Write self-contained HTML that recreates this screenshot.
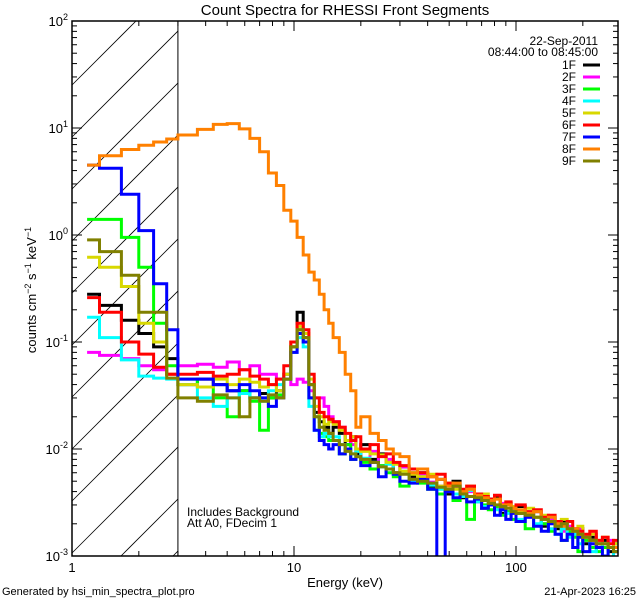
<!DOCTYPE html>
<html><head><meta charset="utf-8"><style>
html,body{margin:0;padding:0;background:#fff;width:640px;height:600px;overflow:hidden;}
svg{display:block;font-family:"Liberation Sans",sans-serif;overflow:hidden;}
</style></head><body>
<svg id="chart" width="640" height="600" viewBox="0 0 640 600">
<rect x="0" y="0" width="640" height="600" fill="#fff"/>
<text x="345" y="15" font-size="15" text-anchor="middle">Count Spectra for RHESSI Front Segments</text>
<text x="345" y="587" font-size="13" text-anchor="middle">Energy (keV)</text>
<text transform="translate(36,290) rotate(-90)" font-size="13" text-anchor="middle">counts cm<tspan dy="-5" font-size="9">−2</tspan><tspan dy="5"> s</tspan><tspan dy="-5" font-size="9">−1</tspan><tspan dy="5"> keV</tspan><tspan dy="-5" font-size="9">−1</tspan></text>
<text x="2" y="595" font-size="11">Generated by hsi_min_spectra_plot.pro</text>
<text x="636" y="595" font-size="11" text-anchor="end">21-Apr-2023 16:25</text>
<text x="187" y="516" font-size="12">Includes Background</text>
<text x="187" y="527" font-size="12">Att A0, FDecim 1</text>
<g id="hatch"></g>
<g id="series"></g>
<g id="axes"></g>
<g id="legend"></g>
</svg>
<script>
const edges=[1.17,1.33,1.67,2.0,2.33,2.67,3.0,3.67,4.33,5,5.67,6.33,7,7.67,8.33,9,9.67,10.33,11,11.67,12.33,13,13.67,14.33,15,16,17,18,19,20,22,24,26,28,30,33,36,40,44,48,52,56,60,65,70,75,80,85,90,95,100,110,120,130,140,150,160,170,180,190,200,215,230,245,260,275,290];
const labels=["1F","2F","3F","4F","5F","6F","7F","8F","9F"];
const colors=["#000000","#ff00ff","#00ff00","#00ffff","#d8d800","#ff0000","#0000ff","#ff8000","#808000"];
const s1F=[0.28,0.22,0.16,0.12,0.09,0.07, 0.04,0.045,0.04,0.035,0.035,0.03,0.033,0.03,0.035,0.05,0.09,0.19,0.11,0.04,0.022,0.018,0.016,0.014, 0.016,0.014,0.011,0.013,0.009,0.011,0.008,0.009,0.0075,0.006,0.0068,0.0055,0.006,0.0045,0.0052,0.0038,0.005,0.0035,0.0042,0.0036,0.0028,0.0034,0.0036,0.0025,0.0031,0.0026,0.0029,0.0024,0.0026,0.0019,0.0023,0.0018,0.0021,0.0017,0.0016,0.0018,0.0013,0.0015,0.0012,0.0014,0.0011,0.0013];
const s2F=[0.08,0.075,0.07,0.06,0.055,0.05, 0.06,0.062,0.058,0.065,0.055,0.06,0.05,0.05,0.045,0.05,0.04,0.045,0.042,0.035,0.03,0.03,0.025,0.02, 0.018,0.016,0.012,0.011,0.01,0.008,0.0095,0.007,0.008,0.006,0.0068,0.0052,0.0058,0.0049,0.0045,0.004,0.0043,0.0037,0.004,0.0032,0.0035,0.003,0.0028,0.0031,0.0026,0.0028,0.0025,0.0023,0.0026,0.002,0.0022,0.0019,0.0017,0.0019,0.0016,0.0018,0.0015,0.0016,0.0013,0.0012,0.0014,0.0011];
const s3F=[1.4,1.4,0.95,0.5,0.15,0.06, 0.045,0.038,0.03,0.02,0.035,0.028,0.015,0.03,0.032,0.045,0.09,0.13,0.1,0.03,0.02,0.014,0.013,0.012, 0.012,0.009,0.011,0.008,0.0085,0.0075,0.0065,0.007,0.006,0.0055,0.0045,0.006,0.0048,0.0042,0.0038,0.0045,0.0033,0.0036,0.0022,0.0033,0.003,0.0027,0.0029,0.0024,0.0026,0.0022,0.0025,0.0018,0.0023,0.002,0.0017,0.0019,0.0014,0.0017,0.0015,0.0011,0.0014,0.0012,0.0011,0.0012,0.0009,0.0011];
const s4F=[0.17,0.11,0.068,0.048,0.046,0.045, 0.04,0.03,0.025,0.03,0.033,0.03,0.028,0.035,0.04,0.05,0.08,0.11,0.09,0.025,0.015,0.013,0.014,0.013, 0.013,0.011,0.01,0.009,0.0095,0.0082,0.0075,0.0068,0.0072,0.0058,0.0062,0.005,0.0055,0.0046,0.0042,0.0048,0.0038,0.0036,0.0041,0.0032,0.0029,0.0033,0.0027,0.0029,0.0025,0.0027,0.0022,0.0024,0.002,0.0022,0.0018,0.0016,0.0018,0.0015,0.0016,0.0013,0.0015,0.0011,0.0012,0.0013,0.0009,0.0011];
const s5F=[0.62,0.5,0.33,0.15,0.1,0.05, 0.04,0.038,0.045,0.04,0.045,0.042,0.038,0.04,0.035,0.05,0.1,0.14,0.12,0.045,0.025,0.02,0.017,0.018, 0.017,0.015,0.012,0.013,0.01,0.0095,0.009,0.0088,0.0075,0.0072,0.0062,0.0058,0.0055,0.0058,0.0045,0.0048,0.0042,0.004,0.0045,0.0035,0.0038,0.0032,0.0034,0.0028,0.0031,0.0029,0.0026,0.0028,0.0023,0.0024,0.0021,0.002,0.0022,0.0018,0.0017,0.0019,0.0015,0.0016,0.0014,0.0015,0.0012,0.0013];
const s6F=[0.26,0.19,0.1,0.077,0.058,0.05, 0.05,0.052,0.048,0.05,0.055,0.048,0.045,0.04,0.045,0.06,0.1,0.15,0.13,0.05,0.03,0.022,0.02,0.019, 0.018,0.016,0.014,0.012,0.013,0.01,0.011,0.0085,0.009,0.0075,0.007,0.0065,0.006,0.0055,0.0058,0.0048,0.0046,0.0042,0.0045,0.0038,0.0036,0.0034,0.0037,0.003,0.0032,0.0028,0.003,0.0026,0.0027,0.0023,0.0024,0.0021,0.002,0.0021,0.0018,0.0017,0.0016,0.0017,0.0014,0.0015,0.0013,0.0014];
const s7F=[4.5,4.2,2.4,1.1,0.35,0.13, 0.045,0.045,0.04,0.035,0.04,0.035,0.03,0.025,0.03,0.045,0.08,0.12,0.1,0.03,0.015,0.012,0.011,0.01, 0.011,0.009,0.01,0.008,0.0085,0.007,0.0075,0.0055,0.0065,0.0058,0.005,0.0048,0.0052,0.0042,0.0006,0.004,0.0035,0.0038,0.0032,0.0034,0.0028,0.003,0.0024,0.0027,0.0022,0.0025,0.0021,0.0023,0.0019,0.0017,0.002,0.0016,0.0014,0.0016,0.0012,0.0015,0.0011,0.0013,0.0012,0.001,0.0012,0.0011];
const s8F=[4.5,5.5,6.3,6.9,7.4,7.9, 8.6,9.7,10.8,11,9.8,8,6,3.8,2.9,1.7,1.35,0.95,0.65,0.45,0.38,0.28,0.2,0.15, 0.11,0.08,0.05,0.035,0.016,0.02,0.014,0.012,0.01,0.009,0.0085,0.006,0.0065,0.0055,0.0052,0.0045,0.0048,0.004,0.0042,0.0037,0.0035,0.0033,0.0034,0.003,0.003,0.0028,0.0027,0.0025,0.0026,0.0022,0.0023,0.002,0.0019,0.0018,0.0018,0.0016,0.0015,0.0014,0.0013,0.0013,0.0012,0.0012];
const s9F=[0.9,0.7,0.42,0.19,0.19,0.046, 0.03,0.028,0.032,0.03,0.02,0.03,0.028,0.032,0.03,0.045,0.09,0.13,0.11,0.04,0.02,0.016,0.015,0.014, 0.012,0.011,0.0095,0.009,0.0085,0.008,0.0075,0.0068,0.0065,0.006,0.0058,0.0052,0.005,0.0048,0.0044,0.0042,0.0045,0.0038,0.0036,0.0035,0.0033,0.0031,0.003,0.0029,0.0028,0.0026,0.0025,0.0024,0.0023,0.0022,0.0021,0.0019,0.002,0.0018,0.0017,0.0016,0.0015,0.0014,0.0013,0.0013,0.0012,0.0011];
const seriesData=[s1F,s2F,s3F,s4F,s5F,s6F,s7F,s8F,s9F];

const NS="http://www.w3.org/2000/svg";
const X0=72,X1=618,Y0=21,Y1=556,DEC=222,YDEC=107;
function xs(e){return X0+DEC*Math.log10(e);}
function ys(v){return Y1-(Math.log10(v)+3)*YDEC;}
function mk(tag,attrs,parent){const el=document.createElementNS(NS,tag);for(const k in attrs)el.setAttribute(k,attrs[k]);parent.appendChild(el);return el;}

const hatch=document.getElementById('hatch');
const defs=mk('defs',{},hatch);
const HX1=xs(3);
for(let b=85;b<Y1+(HX1-X0);b+=52){
  // line y = b - (x - X0), clipped to [X0,HX1]x[Y0,Y1]
  let xa=X0, xb=HX1;
  xa=Math.max(xa, X0+(b-Y1));
  xb=Math.min(xb, X0+(b-Y0));
  if(xb<=xa)continue;
  const ln=mk('line',{x1:xa,y1:b-(xa-X0),x2:xb,y2:b-(xb-X0),stroke:'#000','stroke-width':0.8},hatch);
  
  
}
const vl=mk('line',{x1:HX1,y1:Y0,x2:HX1,y2:Y1,stroke:'#000','stroke-width':1},hatch);



const cp2=mk('clipPath',{id:'pclip'},defs);
mk('rect',{x:X0,y:Y0,width:X1-X0,height:Y1-Y0},cp2);
const sg=mk('g',{'clip-path':'url(#pclip)'},document.getElementById('series'));
seriesData.forEach((vals,si)=>{
  let d='';
  const n=Math.min(vals.length,edges.length-1);
  for(let i=0;i<n;i++){
    const y=Math.min(Y1+2,ys(vals[i]));
    d+=(i===0?'M':'L')+xs(edges[i]).toFixed(1)+','+y.toFixed(1)+'L'+xs(edges[i+1]).toFixed(1)+','+y.toFixed(1);
  }
  const p=mk('path',{d:d,fill:'none',stroke:colors[si],'stroke-width':3,'stroke-linejoin':'miter'},sg);
  
  
});

const ax=document.getElementById('axes');
const frame=mk('rect',{x:X0,y:Y0,width:X1-X0,height:Y1-Y0,fill:'none',stroke:'#000','stroke-width':1.5},ax);


const xMajors=[1,10,100];
for(let dec=1;dec<=100;dec*=10){
  for(let m=1;m<=9;m++){
    const e=dec*m; const x=xs(e); if(x>X1)continue;
    const L=m===1?10:5;
    mk('line',{x1:x,y1:Y1,x2:x,y2:Y1-L,stroke:'#000','stroke-width':1},ax);
    mk('line',{x1:x,y1:Y0,x2:x,y2:Y0+L,stroke:'#000','stroke-width':1},ax);
  }
}
xMajors.forEach(e=>{
  const t=mk('text',{x:xs(e),y:572,'font-size':13,'text-anchor':'middle'},ax);
  t.textContent=String(e);
  
  
});
const yExps=[-3,-2,-1,0,1,2];
yExps.forEach(p=>{
  for(let m=1;m<=9;m++){
    if(p===2&&m>1)break;
    const y=ys(m*Math.pow(10,p)); const L=m===1?10:5;
    mk('line',{x1:X0,y1:y,x2:X0+L,y2:y,stroke:'#000','stroke-width':1},ax);
    mk('line',{x1:X1,y1:y,x2:X1-L,y2:y,stroke:'#000','stroke-width':1},ax);
  }
  const t=mk('text',{x:X0-4,y:ys(Math.pow(10,p))+5,'font-size':13,'text-anchor':'end'},ax);
  t.innerHTML='10<tspan dy="-6" font-size="9">'+p+'</tspan>';
  
  
});

const lg=document.getElementById('legend');
const d1=mk('text',{x:598,y:45,'font-size':12,'text-anchor':'end'},lg);d1.textContent='22-Sep-2011';


const d2=mk('text',{x:598,y:56,'font-size':12,'text-anchor':'end'},lg);d2.textContent='08:44:00 to 08:45:00';


labels.forEach((lb,i)=>{
  const y=65+i*12;
  const g=mk('g',{},lg);
  
  
  const t=mk('text',{x:576,y:y+4,'font-size':12,'text-anchor':'end'},g);t.textContent=lb;
  mk('line',{x1:583,y1:y,x2:600,y2:y,stroke:colors[i],'stroke-width':3},g);
});
</script>
</body></html>
